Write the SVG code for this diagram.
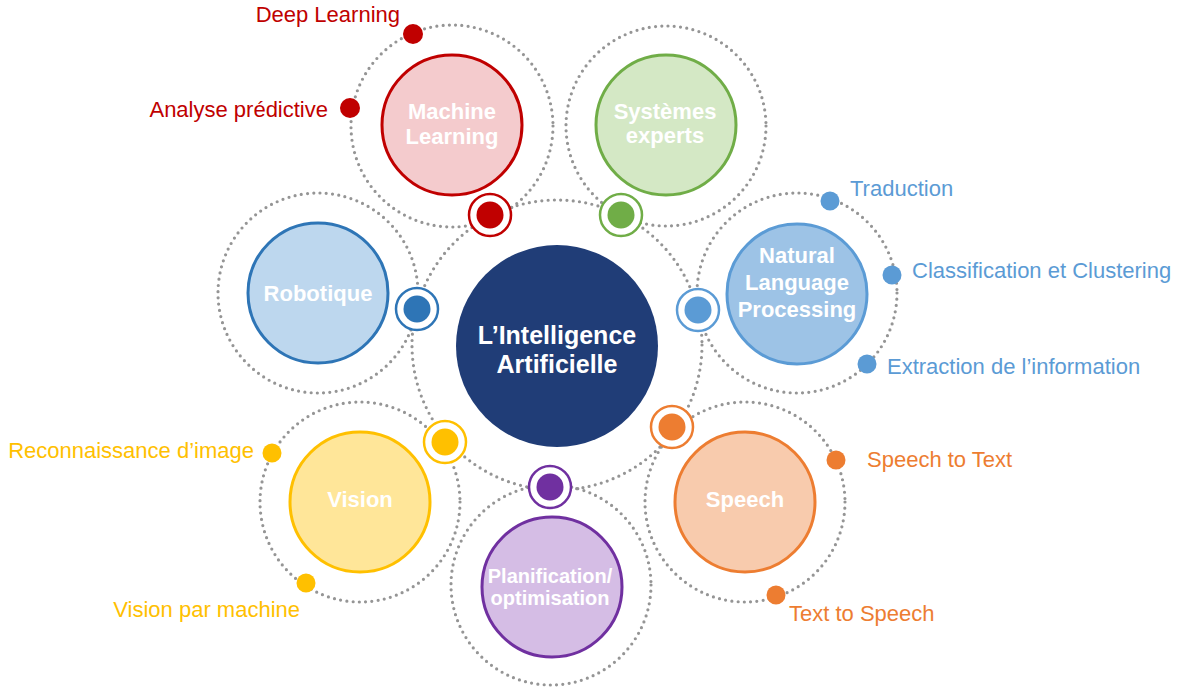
<svg xmlns="http://www.w3.org/2000/svg" width="1185" height="689" viewBox="0 0 1185 689">
<style>
.orbit{fill:none;stroke:#959595;stroke-width:3.2;stroke-dasharray:0 6.3;stroke-linecap:round}
.node{stroke-width:3}
.nt{font-family:"Liberation Sans",Arial,sans-serif;font-weight:bold;fill:#ffffff;text-anchor:middle;font-size:22px}
.lab{font-family:"Liberation Sans",Arial,sans-serif;font-size:22px}
.ring{fill:#ffffff;stroke-width:2.5}
</style>
<rect width="1185" height="689" fill="#ffffff"/>
<g id="connectors">
<circle class="orbit" cx="557" cy="345" r="145"/>
<circle class="orbit" cx="452" cy="126" r="101"/>
<circle class="orbit" cx="666" cy="126" r="100"/>
<circle class="orbit" cx="318" cy="293" r="100"/>
<circle class="orbit" cx="797" cy="293" r="100"/>
<circle class="orbit" cx="360" cy="502" r="100"/>
<circle class="orbit" cx="745" cy="502" r="100"/>
<circle class="orbit" cx="551" cy="585" r="100"/>
</g>
<g id="center">
<circle cx="557" cy="346" r="101" fill="#203d77"/>
<text class="nt" x="557" y="344" style="font-size:25px">L’Intelligence</text>
<text class="nt" x="557" y="373" style="font-size:25px">Artificielle</text>
</g>
<g id="machine-learning">
<circle class="node" cx="452" cy="125" r="70" fill="#f4cbcd" stroke="#c00000"/>
<text class="nt" x="452" y="119">Machine</text>
<text class="nt" x="452" y="144">Learning</text>
<circle class="ring" cx="490" cy="215" r="21" stroke="#c00000"/>
<circle cx="490" cy="215" r="13.5" fill="#c00000"/>
<circle cx="413" cy="34" r="10" fill="#c00000"/>
<circle cx="350" cy="108" r="10" fill="#c00000"/>
<text class="lab" x="400" y="22" fill="#c00000" text-anchor="end">Deep Learning</text>
<text class="lab" x="328" y="117" fill="#c00000" text-anchor="end">Analyse prédictive</text>
</g>
<g id="systemes-experts">
<circle class="node" cx="666" cy="125" r="70" fill="#d4e8c5" stroke="#70ad47"/>
<text class="nt" x="665" y="119">Systèmes</text>
<text class="nt" x="665" y="143">experts</text>
<circle class="ring" cx="621" cy="215" r="21" stroke="#70ad47"/>
<circle cx="621" cy="215" r="13.5" fill="#70ad47"/>
</g>
<g id="robotique">
<circle class="node" cx="318" cy="293" r="70" fill="#bdd7ee" stroke="#2e75b6"/>
<text class="nt" x="318" y="301">Robotique</text>
<circle class="ring" cx="417" cy="309" r="21" stroke="#2e75b6"/>
<circle cx="417" cy="309" r="13.5" fill="#2e75b6"/>
</g>
<g id="nlp">
<circle class="node" cx="797" cy="294" r="70" fill="#9dc3e6" stroke="#5b9bd5"/>
<text class="nt" x="797" y="263">Natural</text>
<text class="nt" x="797" y="290">Language</text>
<text class="nt" x="797" y="317">Processing</text>
<circle class="ring" cx="698" cy="310" r="21" stroke="#5b9bd5"/>
<circle cx="698" cy="310" r="13.5" fill="#5b9bd5"/>
<circle cx="830" cy="201" r="9.5" fill="#5b9bd5"/>
<circle cx="892" cy="275" r="9.5" fill="#5b9bd5"/>
<circle cx="867" cy="364" r="9.5" fill="#5b9bd5"/>
<text class="lab" x="850" y="196" fill="#5b9bd5">Traduction</text>
<text class="lab" x="912" y="278" fill="#5b9bd5">Classification et Clustering</text>
<text class="lab" x="887" y="374" fill="#5b9bd5">Extraction de l’information</text>
</g>
<g id="speech">
<circle class="node" cx="745" cy="502" r="70" fill="#f8cbad" stroke="#ed7d31"/>
<text class="nt" x="745" y="507">Speech</text>
<circle class="ring" cx="672" cy="427" r="21" stroke="#ed7d31"/>
<circle cx="672" cy="427" r="13.5" fill="#ed7d31"/>
<circle cx="836" cy="460" r="9.5" fill="#ed7d31"/>
<circle cx="776" cy="595" r="9.5" fill="#ed7d31"/>
<text class="lab" x="867" y="467" fill="#ed7d31">Speech to Text</text>
<text class="lab" x="789" y="621" fill="#ed7d31">Text  to Speech</text>
</g>
<g id="vision">
<circle class="node" cx="360" cy="502" r="70" fill="#ffe699" stroke="#ffc000"/>
<text class="nt" x="360" y="507">Vision</text>
<circle class="ring" cx="445" cy="442" r="21" stroke="#ffc000"/>
<circle cx="445" cy="442" r="13.5" fill="#ffc000"/>
<circle cx="272" cy="453" r="9.5" fill="#ffc000"/>
<circle cx="306" cy="583" r="9.5" fill="#ffc000"/>
<text class="lab" x="254" y="458" fill="#ffc000" text-anchor="end">Reconnaissance d’image</text>
<text class="lab" x="300" y="617" fill="#ffc000" text-anchor="end">Vision par machine</text>
</g>
<g id="planification">
<circle class="node" cx="552" cy="587" r="70" fill="#d5bde5" stroke="#7030a0"/>
<text class="nt" x="550" y="583" style="font-size:20px">Planification/</text>
<text class="nt" x="550" y="605" style="font-size:20px">optimisation</text>
<circle class="ring" cx="550" cy="487" r="21" stroke="#7030a0"/>
<circle cx="550" cy="487" r="13.5" fill="#7030a0"/>
</g>
</svg>
